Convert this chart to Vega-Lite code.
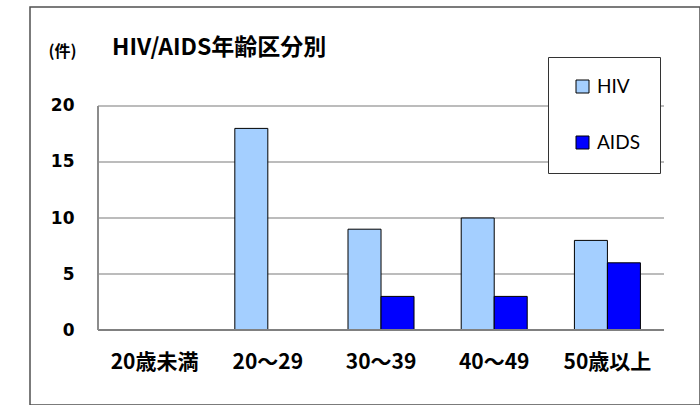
{
  "$schema": "https://vega.github.io/schema/vega-lite/v6.json",
  "width": 670,
  "height": 398,
  "autosize": {"type": "none"},
  "padding": {"left": 30, "top": 7, "right": 0, "bottom": 0},
  "background": "white",
  "config": {
    "view": {"stroke": "#505050", "strokeWidth": 1.5},
    "font": "Noto Sans CJK JP"
  },
  "title": {
    "text": "HIV/AIDS年齢区分別",
    "anchor": "start",
    "frame": "group",
    "orient": "top",
    "offset": 0,
    "dx": 82,
    "dy": 71,
    "baseline": "alphabetic",
    "font": "Noto Sans CJK JP",
    "fontSize": 23,
    "fontWeight": "bold",
    "color": "black"
  },
  "datasets": {
    "cases": [
      {"age": "20歳未満", "series": "HIV", "count": 0},
      {"age": "20～29", "series": "HIV", "count": 18},
      {"age": "30～39", "series": "HIV", "count": 9},
      {"age": "40～49", "series": "HIV", "count": 10},
      {"age": "50歳以上", "series": "HIV", "count": 8},
      {"age": "20歳未満", "series": "AIDS", "count": 0},
      {"age": "20～29", "series": "AIDS", "count": 0},
      {"age": "30～39", "series": "AIDS", "count": 3},
      {"age": "40～49", "series": "AIDS", "count": 3},
      {"age": "50歳以上", "series": "AIDS", "count": 6}
    ],
    "grid": [{"v": 5}, {"v": 10}, {"v": 15}, {"v": 20}],
    "base": [{"v": 0}]
  },
  "layer": [
    {
      "data": {"name": "grid"},
      "mark": {"type": "rule", "color": "#a6a6a6", "strokeWidth": 1.3},
      "encoding": {
        "y": {"field": "v", "type": "quantitative"},
        "x": {"datum": "20歳未満", "type": "nominal", "bandPosition": 0},
        "x2": {"datum": "50歳以上", "bandPosition": 1}
      }
    },
    {
      "data": {"name": "cases"},
      "mark": {"type": "bar", "stroke": "black", "strokeWidth": 1},
      "encoding": {
        "x": {
          "field": "age",
          "type": "nominal",
          "sort": ["20歳未満", "20～29", "30～39", "40～49", "50歳以上"],
          "scale": {
            "domain": ["20歳未満", "20～29", "30～39", "40～49", "50歳以上"],
            "paddingInner": 0,
            "paddingOuter": 0.4594,
            "align": 0.654
          },
          "axis": {
            "orient": "bottom",
            "offset": -75,
            "title": null,
            "domain": false,
            "ticks": false,
            "grid": false,
            "bandPosition": 0.5,
            "labelAlign": "center",
            "labelBaseline": "top",
            "labelAngle": 0,
            "labelPadding": 21,
            "labelFont": "Noto Sans CJK JP",
            "labelFontSize": 21,
            "labelFontWeight": "bold",
            "labelColor": "black"
          }
        },
        "xOffset": {
          "field": "series",
          "type": "nominal",
          "sort": ["HIV", "AIDS"],
          "scale": {"paddingInner": 0, "paddingOuter": 0.715}
        },
        "y": {
          "field": "count",
          "type": "quantitative",
          "scale": {"domain": [-6.696, 28.839], "nice": false, "zero": false},
          "axis": {
            "orient": "left",
            "offset": -68,
            "values": [0, 5, 10, 15, 20],
            "grid": false,
            "domain": false,
            "ticks": false,
            "labelAlign": "right",
            "labelBaseline": "middle",
            "labelPadding": 24,
            "labelFont": "DejaVu Sans",
            "labelFontSize": 17,
            "labelFontWeight": "bold",
            "labelColor": "black",
            "title": "(件)",
            "titleAngle": 0,
            "titleX": -36,
            "titleY": 44,
            "titleAlign": "center",
            "titleBaseline": "middle",
            "titleFont": "Noto Sans CJK JP",
            "titleFontSize": 16,
            "titleFontWeight": "bold",
            "titleColor": "black"
          }
        },
        "y2": {"datum": 0},
        "fill": {
          "field": "series",
          "type": "nominal",
          "scale": {"domain": ["HIV", "AIDS"], "range": ["#a4cfff", "#0000ff"]},
          "legend": {
            "orient": "none",
            "legendX": 518,
            "legendY": 50,
            "title": null,
            "strokeColor": "#333333",
            "fillColor": "white",
            "padding": 20,
            "rowPadding": 36,
            "symbolType": "square",
            "symbolSize": 169,
            "symbolStrokeColor": "black",
            "symbolStrokeWidth": 1,
            "symbolOffset": 5,
            "labelOffset": 5,
            "labelFont": "Lato",
            "labelFontSize": 19,
            "labelColor": "black"
          }
        }
      }
    },
    {
      "data": {"name": "base"},
      "mark": {"type": "rule", "color": "#808080", "strokeWidth": 2},
      "encoding": {
        "y": {"field": "v", "type": "quantitative"},
        "x": {"datum": "20歳未満", "type": "nominal", "bandPosition": 0},
        "x2": {"datum": "50歳以上", "bandPosition": 1}
      }
    },
    {
      "data": {"name": "base"},
      "mark": {"type": "rule", "color": "#8c8c8c", "strokeWidth": 2},
      "encoding": {
        "y": {"field": "v", "type": "quantitative"},
        "y2": {"datum": 20},
        "x": {"datum": "20歳未満", "type": "nominal", "bandPosition": 0}
      }
    }
  ]
}
